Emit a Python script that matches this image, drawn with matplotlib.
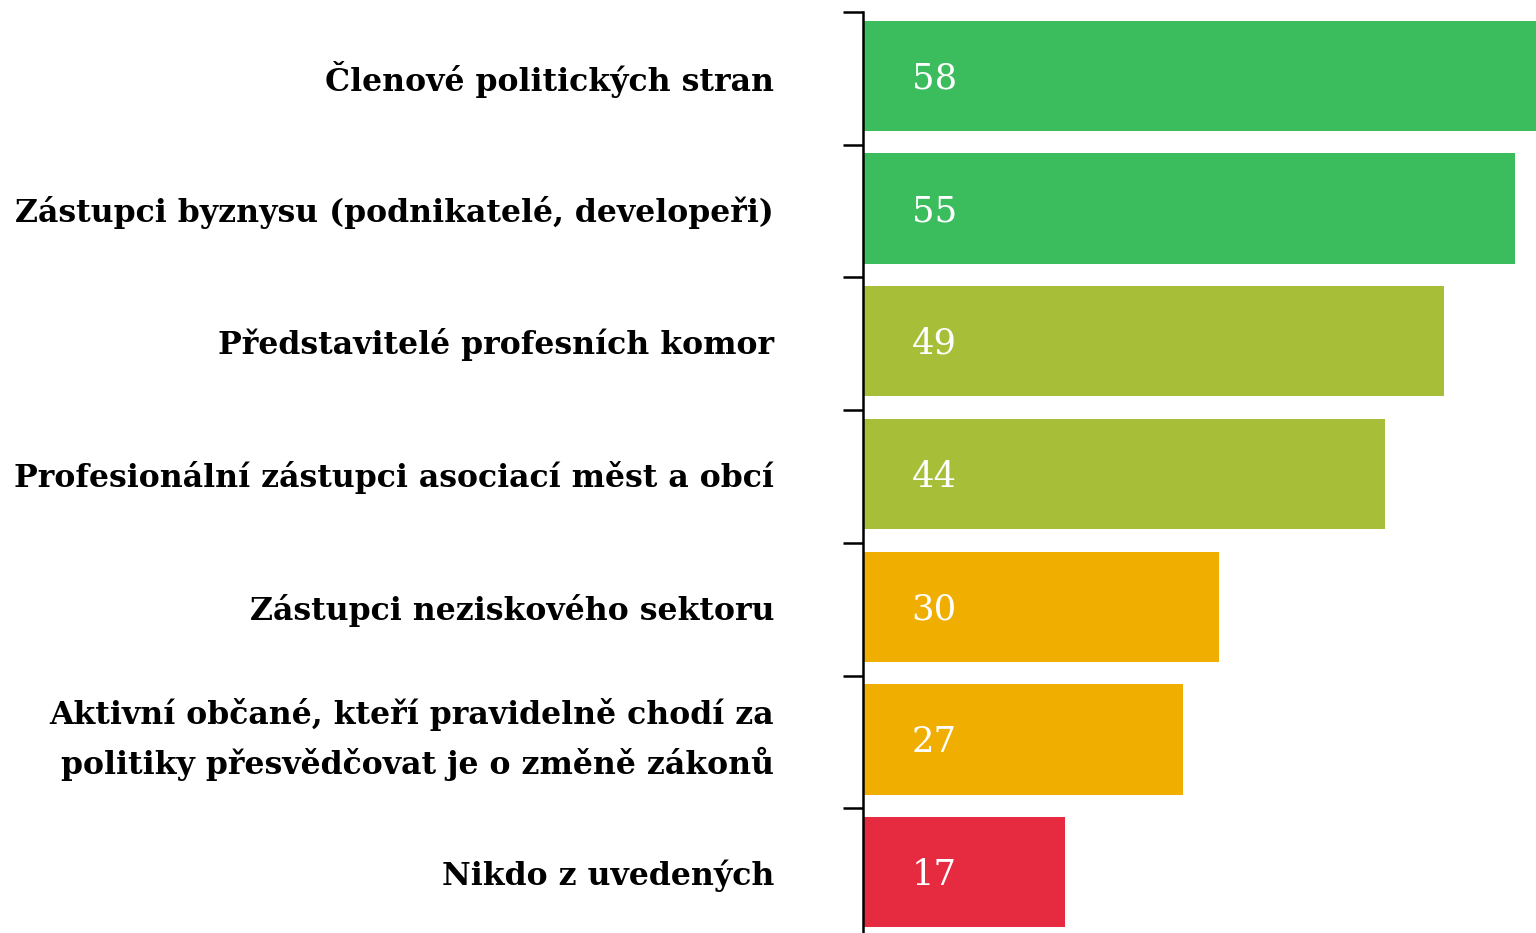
import matplotlib
matplotlib.use("Agg")
import matplotlib.pyplot as plt

categories = [
    "Členové politických stran",
    "Zástupci byznysu (podnikatelé, developeři)",
    "Představitelé profesních komor",
    "Profesionální zástupci asociací měst a obcí",
    "Zástupci neziskového sektoru",
    "Aktivní občané, kteří pravidelně chodí za\npolitiky přesvědčovat je o změně zákonů",
    "Nikdo z uvedených",
]
values = [58, 55, 49, 44, 30, 27, 17]
colors = ["#3bbd5e", "#3bbd5e", "#a6be38", "#a6be38", "#f0ae00", "#f0ae00", "#e62a40"]

fig = plt.figure(figsize=(15.36, 9.33), dpi=100)
ax = fig.add_axes([863 / 1536, 0.0, 1 - 863 / 1536, 1 - 12 / 933])

pos = list(range(len(values)))
ax.barh(pos, values, height=0.83, color=colors)

for y, v in zip(pos, values):
    ax.text(4.1, y + 0.02, str(v), color="white", fontsize=25.5,
            family="DejaVu Serif", va="center", ha="left")

ax.set_xlim(0, 56.77)
ax.set_ylim(6.458, -0.481)

ax.set_yticks([p - 0.481 for p in pos])
ax.set_yticklabels([])
ax.set_yticks(pos, minor=True)
labels = ax.set_yticklabels(categories, minor=True, family="DejaVu Serif",
                            fontweight="bold", fontsize=22.7, ha="right",
                            linespacing=1.6)
# two-line label: centre the block, not the baseline
for lab in labels:
    if "\n" in lab.get_text():
        lab.set_verticalalignment("center")
ax.tick_params(axis="y", which="major", length=14.5, width=1.8, color="black")
ax.tick_params(axis="y", which="minor", length=0, pad=64)
ax.set_xticks([])

for side in ["top", "right", "bottom"]:
    ax.spines[side].set_visible(False)
ax.spines["left"].set_linewidth(1.8)

fig.savefig("out.png", dpi=100)
